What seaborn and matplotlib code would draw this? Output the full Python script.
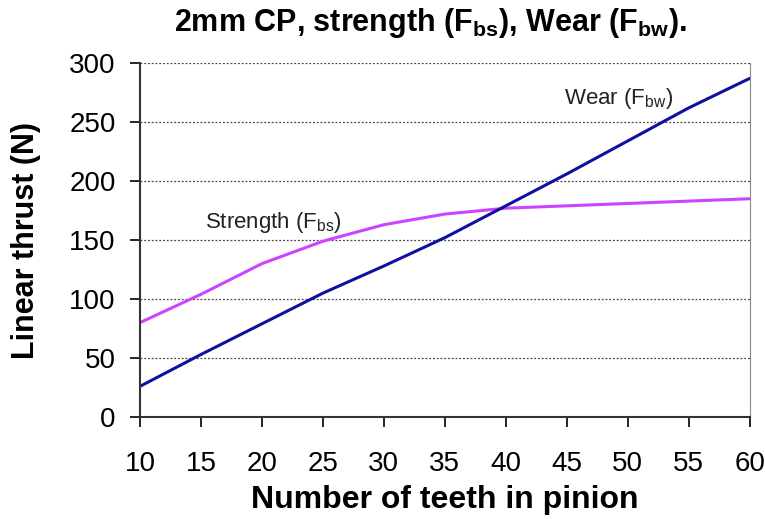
import pandas as pd
import matplotlib
matplotlib.use("Agg")
import matplotlib.pyplot as plt
import seaborn as sns

# valores
dentes = [10, 15, 20, 25, 30, 35, 40, 45, 50, 55, 60]
strength = [80, 104, 130, 149, 163, 172, 177, 179, 181, 183, 185]
wear = [26, 53, 79, 105, 128, 152, 179, 206, 234, 262, 287]

sns.set_style("white")
plt.rcParams['font.family'] = ['Liberation Sans', 'DejaVu Sans']
plt.rcParams['mathtext.default'] = 'regular'
plt.rcParams['text.color'] = 'black'
plt.rcParams['xtick.color'] = 'black'
plt.rcParams['ytick.color'] = 'black'
plt.rcParams['axes.labelcolor'] = 'black'

df = pd.DataFrame({"dentes": dentes, "Strength": strength, "Wear": wear})
df_long = df.melt(id_vars="dentes", var_name="serie", value_name="thrust")

fig = plt.figure(figsize=(7.65, 5.19), dpi=100)
ax = fig.add_axes([0.183, 0.1965, 0.797, 0.682])

sns.lineplot(data=df_long, x="dentes", y="thrust", hue="serie",
             palette={"Strength": "#CC44FF", "Wear": "#1010A0"},
             linewidth=2.2, legend=False, ax=ax)

ax.set_xlim(10, 60)
ax.set_ylim(0, 300)
ax.set_xticks(range(10, 61, 5))
ax.set_yticks(range(0, 301, 50))
ax.tick_params(axis='x', labelsize=20, length=7.5, width=1.2, pad=17, direction='out', bottom=True)
ax.tick_params(axis='y', labelsize=20, length=7.5, width=1.2, pad=10, direction='out', left=True)

for y in range(50, 301, 50):
    ax.axhline(y, color='#444444', linestyle=(0, (1.5, 1.5)), linewidth=0.9, zorder=0)

ax.spines['top'].set_visible(False)
ax.spines['right'].set_color('#888888')
ax.spines['left'].set_color('#333333')
ax.spines['bottom'].set_color('#333333')
ax.spines['left'].set_linewidth(1.5)
ax.spines['bottom'].set_linewidth(1.5)

ax.set_xlabel("Number of teeth in pinion", fontsize=23, fontweight='bold', labelpad=6)
ax.set_ylabel("Linear thrust (N)", fontsize=22, fontweight='bold', labelpad=20)

ax.text(15.3, 165, "Strength (F$_{bs}$)", fontsize=16, color='#222222', ha='left', va='center')
ax.text(44.8, 270, "Wear (F$_{bw}$)", fontsize=16, color='#222222', ha='left', va='center')

fig.text(0.563, 0.955, "2mm CP, strength (F$_{bs}$), Wear (F$_{bw}$).",
         fontsize=22, fontweight='bold', ha='center', va='center')

plt.savefig("out.png", dpi=100)
plt.close()
